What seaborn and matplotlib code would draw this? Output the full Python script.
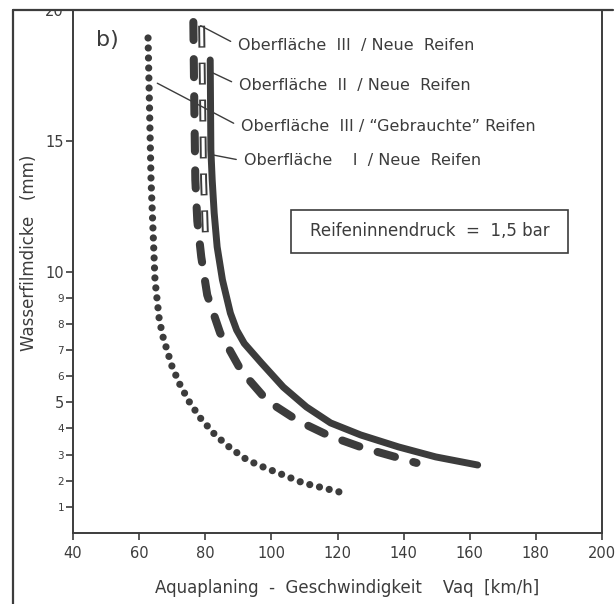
import matplotlib
matplotlib.use("Agg")
import matplotlib.pyplot as plt
from matplotlib.lines import Line2D
from matplotlib.patches import Rectangle
import seaborn as sns
import pandas as pd

# Aquaplaning speed (km/h) versus water film thickness (mm), tyre pressure 1.5 bar
v_III_used = [62.7, 63.6, 64.8, 66.1, 67.3, 70.0, 72.4, 75.2, 78.5, 83.0, 87.6,
              92.7, 97.6, 103.6, 109.7, 115.8, 121.8]
d_III_used = [18.93, 13.5, 9.67, 8.15, 7.46, 6.35, 5.66, 5.01, 4.40, 3.75, 3.25,
              2.79, 2.52, 2.22, 1.91, 1.72, 1.53]

v_II_new = [81.5, 81.7, 82.1, 82.7, 83.6, 85.2, 87.6, 89.5, 91.8, 97.0, 103.6,
            110.6, 117.9, 127.0, 138.5, 149.7, 162.4]
d_II_new = [18.09, 14.65, 13.5, 12.24, 10.94, 9.68, 8.41, 7.76, 7.25, 6.50, 5.58,
            4.82, 4.21, 3.75, 3.29, 2.91, 2.60]

v_III_new = [76.4, 76.7, 77.0, 77.6, 78.8, 80.6, 84.5, 90.9, 98.8, 108.2, 117.6,
             127.9, 139.7, 143.9]
d_III_new = [19.54, 16.25, 13.5, 11.93, 10.55, 9.10, 7.65, 6.20, 5.05, 4.28, 3.71,
             3.25, 2.83, 2.68]

v_I_new = [78.9, 79.2, 79.5, 80.1]
d_I_new = [19.4, 16.55, 13.5, 11.2]

x_ticks = [40, 60, 80, 100, 120, 140, 160, 180, 200]
y_ticks = [1, 2, 3, 4, 5, 6, 7, 8, 9, 10, 15, 20]
y_big = [5, 10, 15, 20]

labels = {
    "III_new": "Oberfläche  III  / Neue  Reifen",
    "II_new": "Oberfläche  II  / Neue  Reifen",
    "III_used": "Oberfläche  III / \u201cGebrauchte\u201d Reifen",
    "I_new": "Oberfläche    I  / Neue  Reifen",
}

INK = "#3c3c3c"

sns.set_theme(style="white")
plt.rcParams["font.family"] = ["DejaVu Sans"]
plt.rcParams["lines.scale_dashes"] = False

fig = plt.figure(figsize=(6.15, 6.04), dpi=100)
fig.patch.set_facecolor("white")
ax = fig.add_axes([73 / 615, 1 - 533 / 604, (602 - 73) / 615, (533 - 10) / 604])
ax.set_facecolor("white")


def draw(v, d, **style):
    frame = pd.DataFrame({"v": v, "d": d})
    sns.lineplot(data=frame, x="v", y="d", sort=False, estimator=None, ax=ax,
                 color=INK, legend=False)
    line = ax.lines[-1]
    line.set(**style)
    return line


# Surface III / used tyres: dotted
draw(v_III_used, d_III_used, linewidth=5.2, linestyle=(0, (0.001, 7.2)),
     dash_capstyle="round", dash_joinstyle="round", zorder=3)
# Surface I / new tyres: hollow bars (dark outline, white core)
draw(v_I_new, d_I_new, linewidth=5.0, linestyle=(0, (15.8, 10.8)),
     dash_capstyle="butt", zorder=3)
draw(v_I_new, d_I_new, linewidth=2.2, linestyle=(25.6, (13.8, 12.8)),
     dash_capstyle="butt", color="white", zorder=3.1)
# Surface III / new tyres: heavy dashes
draw(v_III_new, d_III_new, linewidth=5.8, linestyle=(0, (13.0, 13.7)),
     dash_capstyle="round", dash_joinstyle="round", zorder=4)
# Surface II / new tyres: heavy solid
draw(v_II_new, d_II_new, linewidth=5.0, solid_capstyle="round",
     solid_joinstyle="round", zorder=4)

ax.set_xlim(40, 200)
ax.set_ylim(0, 20)
ax.set_xticks(x_ticks)
ax.set_xticklabels([str(t) for t in x_ticks])
ax.set_yticks(y_ticks)
ax.set_yticklabels([str(t) for t in y_ticks])
for tick, val in zip(ax.get_yticklabels(), y_ticks):
    tick.set_fontsize(10.5 if val in y_big else 7.5)
    tick.set_color(INK)
for tick in ax.get_xticklabels():
    tick.set_fontsize(10.5)
    tick.set_color(INK)

ax.tick_params(axis="both", direction="out", length=5, width=1.2, color=INK,
               left=True, bottom=True)
ax.tick_params(axis="y", pad=1.5)
ax.tick_params(axis="x", pad=4)
for sp in ax.spines.values():
    sp.set_color(INK)
    sp.set_linewidth(1.4)
    sp.set_visible(True)

ax.set_xlabel("Aquaplaning  -  Geschwindigkeit    Vaq  [km/h]", fontsize=12,
              color=INK)
ax.xaxis.set_label_coords(0.518, -0.088)
ax.set_ylabel("Wasserfilmdicke   (mm)", fontsize=12, color=INK)
ax.yaxis.set_label_coords(-0.066, 0.535)

ax.text(50.5, 18.85, "b)", fontsize=16, color=INK, ha="center", va="center")

# Curve labels with leader lines
leader = dict(arrowstyle="-", color=INK, lw=1.0, shrinkA=3, shrinkB=0,
              relpos=(0, 0.5))
notes = [
    ("III_new", (78.6, 19.4), (89.8, 18.66)),
    ("II_new", (82.2, 17.6), (90.1, 17.13)),
    ("III_used", (65.5, 17.2), (90.7, 15.53)),
    ("I_new", (82.2, 14.46), (91.6, 14.23)),
]
for key, xy, xytext in notes:
    ax.annotate(labels[key], xy=xy, xytext=xytext, textcoords="data",
                fontsize=11.5, color=INK, ha="left", va="center",
                arrowprops=leader, zorder=5)

# Tyre pressure box
ax.add_patch(Rectangle((105.9, 10.71), 189.7 - 105.9, 12.35 - 10.71,
                       fill=False, edgecolor=INK, linewidth=1.2, zorder=5))
ax.text(148.0, 11.53, "Reifeninnendruck  =  1,5 bar", fontsize=12, color=INK,
        ha="center", va="center", zorder=5)

# Page frame: mask above the top rule, then the rules
top = 1 - 10 / 604
fig.add_artist(Rectangle((0, top), 1, 1 - top, transform=fig.transFigure,
                         facecolor="white", edgecolor="none", zorder=10))
fig.add_artist(Line2D([13 / 615, 613 / 615], [top, top], transform=fig.transFigure,
                      color=INK, lw=1.6, zorder=11))
fig.add_artist(Line2D([13 / 615, 13 / 615], [0, top], transform=fig.transFigure,
                      color=INK, lw=1.6, zorder=11))

fig.savefig("out.png", dpi=100, facecolor="white")
